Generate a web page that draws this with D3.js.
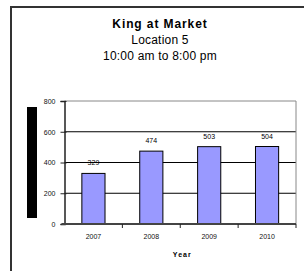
<!DOCTYPE html>
<html>
<head>
<meta charset="utf-8">
<script src="https://cdn.jsdelivr.net/npm/d3@7"></script>
<style>
  body { margin: 0; background: #fff; }
  text { font-family: Arial, "Liberation Sans", sans-serif; }
</style>
</head>
<body>
<div id="chart"></div>
<script>
// chart data
const years = ["2007", "2008", "2009", "2010"];
const counts = [329, 474, 503, 504];
const yTicks = [0, 200, 400, 600, 800];
const titleLines = ["King at Market", "Location 5", "10:00 am to 8:00 pm"];
const xTitle = "Year";

const width = 304, height = 271;
// plot area inside the chart frame
const plot = {left: 64.5, right: 296, top: 101, bottom: 224};

let svg = d3.select("#chart")
    .append("svg")
    .attr("width", width)
    .attr("height", height);

// outer chart frame (right/bottom edges fall outside the window)
svg.append("rect")
    .attr("x", 11)
    .attr("y", 7)
    .attr("width", 320)
    .attr("height", 300)
    .attr("fill", "none")
    .attr("stroke", "#333")
    .attr("stroke-width", 2);

// titles
const titleY = [28, 44, 60];
svg.selectAll(".title")
    .data(titleLines)
    .enter().append("text")
    .attr("class", "title")
    .attr("x", 160)
    .attr("y", (d, i) => titleY[i])
    .attr("text-anchor", "middle")
    .style("font-size", "12px")
    .style("font-weight", (d, i) => i == 0 ? "bold" : "normal")
    .style("letter-spacing", (d, i) => i == 0 ? "0.9px" : "0.2px")
    .text(d => d);

let x = d3.scaleBand()
    .domain(years)
    .range([plot.left, plot.right])
    .paddingInner(0.6)
    .paddingOuter(0.3);

let y = d3.scaleLinear()
    .domain([0, 800])
    .range([plot.bottom, plot.top]);

// gridlines
svg.append("g")
    .selectAll("line")
    .data(yTicks.filter(d => d > 0 && d < 800))
    .enter().append("line")
    .attr("x1", plot.left)
    .attr("x2", plot.right)
    .attr("y1", d => y(d))
    .attr("y2", d => y(d))
    .attr("stroke", "#000")
    .attr("stroke-width", 1);

// plot area border (top and right in gray)
svg.append("path")
    .attr("d", `M${plot.left},${y(800)}H${plot.right}V${plot.bottom}`)
    .attr("fill", "none")
    .attr("stroke", "#888")
    .attr("stroke-width", 1);

// bars
svg.append("g")
    .selectAll("rect")
    .data(counts)
    .enter().append("rect")
    .attr("x", (d, i) => x(years[i]))
    .attr("y", d => y(d))
    .attr("width", x.bandwidth())
    .attr("height", d => y(0) - y(d))
    .attr("fill", "#9999ff")
    .attr("stroke", "#000")
    .attr("stroke-width", 1);

// value labels
svg.append("g")
    .selectAll("text")
    .data(counts)
    .enter().append("text")
    .attr("x", (d, i) => x(years[i]) + x.bandwidth() / 2)
    .attr("y", d => y(d) - 8)
    .attr("text-anchor", "middle")
    .style("font-size", "7px")
    .text(d => d);

// y axis
let yAxis = svg.append("g")
    .attr("transform", "translate(" + plot.left + ",0)")
    .call(d3.axisLeft(y).tickValues(yTicks).tickSize(4).tickPadding(5));
yAxis.select(".domain").attr("stroke", "#222").attr("stroke-width", 1.5);
yAxis.selectAll(".tick line").attr("stroke", "#222").attr("x2", -4).attr("x1", 2);
yAxis.selectAll("text").style("font-size", "7px").attr("fill", "#111");

// x axis with ticks between categories
let xAxis = svg.append("g")
    .attr("transform", "translate(0," + plot.bottom + ")");
xAxis.append("line")
    .attr("x1", plot.left - 3)
    .attr("x2", plot.right)
    .attr("stroke", "#444")
    .attr("stroke-width", 2);
const step = (plot.right - plot.left) / years.length;
xAxis.selectAll(".sep")
    .data(years)
    .enter().append("line")
    .attr("class", "sep")
    .attr("x1", (d, i) => plot.left + step * (i + 1))
    .attr("x2", (d, i) => plot.left + step * (i + 1))
    .attr("y1", 0)
    .attr("y2", 4)
    .attr("stroke", "#222");
xAxis.selectAll(".lbl")
    .data(years)
    .enter().append("text")
    .attr("class", "lbl")
    .attr("x", d => x(d) + x.bandwidth() / 2)
    .attr("y", 15)
    .attr("text-anchor", "middle")
    .style("font-size", "7px")
    .attr("fill", "#111")
    .text(d => d);

// axis titles
svg.append("text")
    .attr("x", (plot.left + plot.right) / 2 + 2)
    .attr("y", 257)
    .attr("text-anchor", "middle")
    .style("font-size", "7px")
    .style("font-weight", "bold")
    .style("letter-spacing", "1px")
    .text(xTitle);

// y title renders as a solid black block in the source
svg.append("rect")
    .attr("x", 27)
    .attr("y", 107)
    .attr("width", 10)
    .attr("height", 111)
    .attr("fill", "#000");
</script>
</body>
</html>
